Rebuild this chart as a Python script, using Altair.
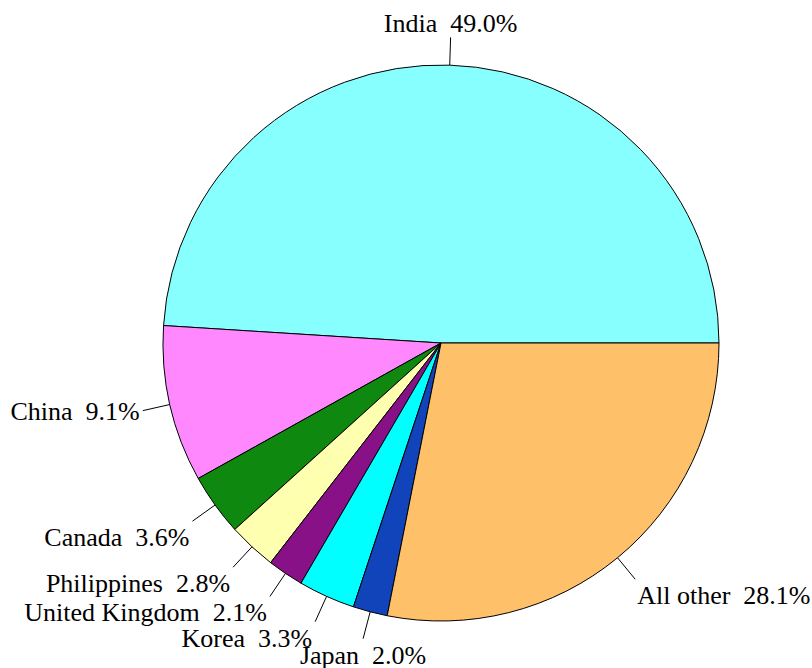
import math
import altair as alt
import pandas as pd

# ---- data ----
categories = ["India", "China", "Canada", "Philippines", "United Kingdom", "Korea", "Japan", "All other"]
shares = [49.0, 9.1, 3.6, 2.8, 2.1, 3.3, 2.0, 28.1]
colors = ["#88FFFF", "#FF88FF", "#0F880F", "#FFFFB0", "#881188", "#00FFFF", "#1144BB", "#FFC06A"]

df = pd.DataFrame({"category": categories, "share": shares, "order": list(range(len(categories)))})

# ---- layout ----
W, H = 812, 668
CX, CY = 441, 343
R = 278
FONT = "'Liberation Serif', 'Times New Roman', Times, serif"

base = alt.Chart(df)

pie = base.mark_arc(radius=R, stroke="black", strokeWidth=1).encode(
    theta=alt.Theta("share:Q", stack=True,
                    scale=alt.Scale(domain=[0, 100], range=[2.5 * math.pi, 0.5 * math.pi])),
    color=alt.Color("category:N", scale=alt.Scale(domain=categories, range=colors), legend=None),
    order=alt.Order("order:Q"),
    x=alt.value(CX),
    y=alt.value(CY),
)

lab = base.transform_window(
    cum="sum(share)", sort=[alt.SortField("order")], frame=[None, 0]
).transform_calculate(
    mid="datum.cum - datum.share / 2",
    ang="2 * PI * datum.mid / 100",
    c="cos(datum.ang)",
    s="sin(datum.ang)",
    x0="datum.c",
    y0="datum.s",
    x1="1.1 * datum.c",
    y1="1.1 * datum.s",
    label="datum.category + '\u00a0\u00a0' + format(datum.share, '.1f') + '%'",
    ha="datum.c > 0.3 ? 'left' : (datum.c < -0.3 ? 'right' : 'center')",
    va="datum.s > 0.5 ? 'bottom' : (datum.s < -0.5 ? 'top' : 'middle')",
)

xs = alt.Scale(domain=[-CX / R, (W - CX) / R], nice=False, zero=False)
ys = alt.Scale(domain=[-(H - CY) / R, CY / R], nice=False, zero=False)

rules = lab.mark_rule(color="black", strokeWidth=1).encode(
    x=alt.X("x0:Q", scale=xs, axis=None),
    y=alt.Y("y0:Q", scale=ys, axis=None),
    x2="x1:Q",
    y2="y1:Q",
)

dxs = {"left": 2, "center": 0, "right": -3}
dys = {"top": 4, "middle": 1, "bottom": 0}
texts = []
for ha in ["left", "center", "right"]:
    for va in ["top", "middle", "bottom"]:
        texts.append(
            lab.transform_filter(f"datum.ha == '{ha}' && datum.va == '{va}'")
            .mark_text(align=ha, baseline=va, dx=dxs[ha], dy=dys[va],
                       font=FONT, fontSize=26, color="black")
            .encode(
                x=alt.X("x1:Q", scale=xs, axis=None),
                y=alt.Y("y1:Q", scale=ys, axis=None),
                text="label:N",
            )
        )

chart = alt.layer(pie, rules, *texts).properties(
    width=W, height=H, padding=0, autosize="none", background="white"
).configure_view(stroke=None)

chart.save("out.html", embed_options={"renderer": "svg", "actions": False})
